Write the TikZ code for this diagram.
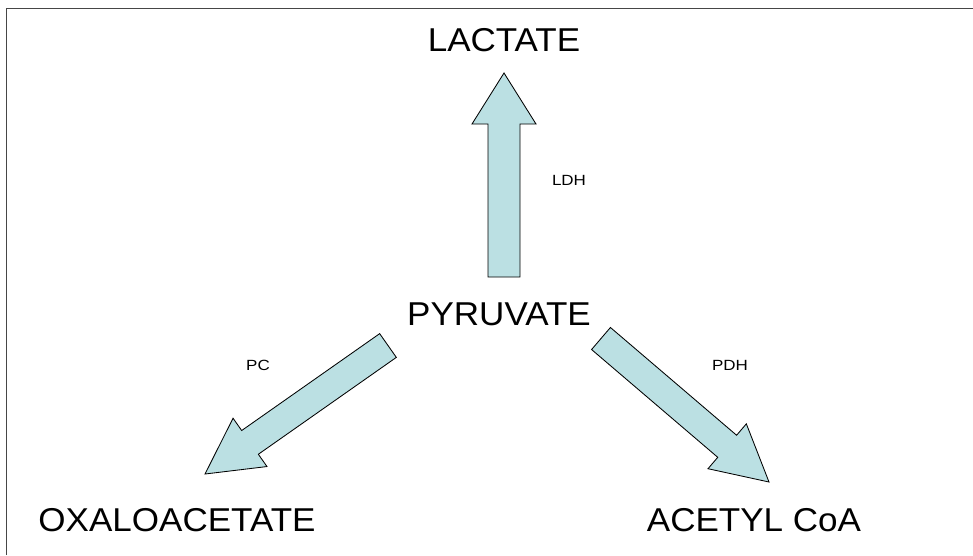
\documentclass[tikz,border=0pt]{standalone}
\usepackage{fontspec}
\setmainfont{Liberation Sans}[FakeStretch=1.06]
\newfontfamily\enzymefont{Liberation Sans}[FakeStretch=1.15]
\usetikzlibrary{calc}

\definecolor{fluxfill}{RGB}{187,224,227}
\definecolor{framegray}{RGB}{70,70,70}

\tikzset{
  metabolite/.style={font=\fontsize{23.5}{26}\selectfont, inner sep=0pt},
  enzyme/.style={font=\enzymefont\fontsize{10.5}{12}\selectfont, inner sep=0pt},
  flux/.style={draw=black, line width=0.6pt, fill=fluxfill, line join=miter}
}

% block arrow: tail, tip, half shaft, half head, head length
\newcommand{\fluxarrow}[5]{%
  \path ($(#2)!#5!(#1)$) coordinate (hb);
  \draw[flux] ($(#1)!#3!90:(#2)$) -- ($(hb)!#3!90:(#2)$) -- ($(hb)!#4!90:(#2)$)
    -- (#2) -- ($(hb)!#4!-90:(#2)$) -- ($(hb)!#3!-90:(#2)$) -- ($(#1)!#3!-90:(#2)$) -- cycle;}

\begin{document}
\begin{tikzpicture}[x=0.025cm,y=-0.025cm]
    \useasboundingbox (0,0) rectangle (973,555);
    % Frame
    \draw[framegray, line width=1.1pt] (6.5,555) -- (6.5,8.5) -- (973,8.5);

    % The metabolites
    \node[metabolite] (lactate) at (504,40) {LACTATE};
    \node[metabolite] (pyruvate) at (499,314) {PYRUVATE};
    \node[metabolite] (oxalo) at (177,520) {OXALOACETATE};
    \node[metabolite] (acetyl) at (754,520) {ACETYL CoA};

    % The enzymes
    \node[enzyme] (ldh) at (569,180) {LDH};
    \node[enzyme] (pc) at (258,365) {PC};
    \node[enzyme] (pdh) at (730,365) {PDH};

    % Ends of the arrows
    \coordinate (ldhtail) at (504,277);
    \coordinate (ldhtip) at (504,73);
    \coordinate (pctail) at (388,345.5);
    \coordinate (pctip) at (205,474);
    \coordinate (pdhtail) at (601,338.5);
    \coordinate (pdhtip) at (769,482);

    % The arrows
    \fluxarrow{ldhtail}{ldhtip}{0.4cm}{0.8cm}{1.275cm}
    \fluxarrow{pctail}{pctip}{0.3625cm}{0.7375cm}{1.375cm}
    \fluxarrow{pdhtail}{pdhtip}{0.3625cm}{0.7375cm}{1.375cm}
\end{tikzpicture}
\end{document}
